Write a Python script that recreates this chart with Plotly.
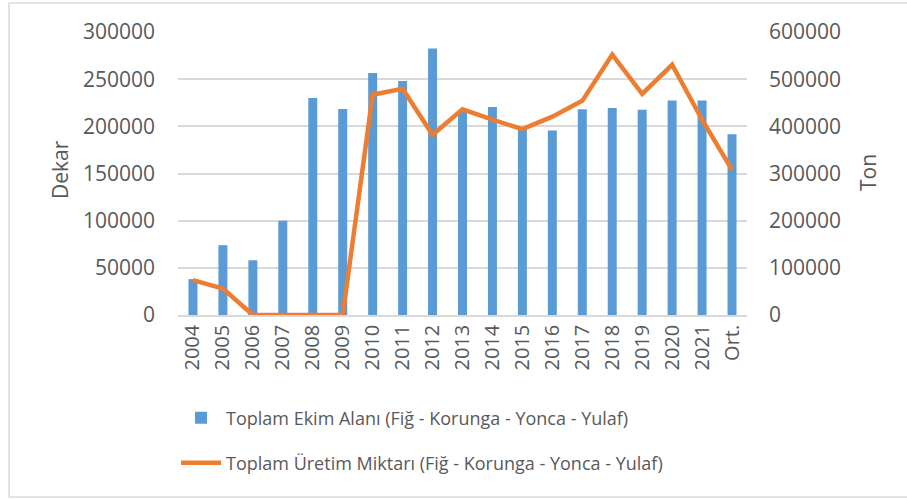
import plotly.graph_objects as go

categories = ["2004", "2005", "2006", "2007", "2008", "2009", "2010", "2011", "2012",
              "2013", "2014", "2015", "2016", "2017", "2018", "2019", "2020", "2021", "Ort."]
ekim_alani = [38000, 74000, 58000, 100000, 230000, 218500, 256500, 248000, 282500,
              216000, 220500, 197000, 195500, 218000, 219500, 217500, 227500, 227500, 191500]
uretim = [74000, 56000, 0, 0, 0, 0, 467000, 479500, 382000,
          436000, 414000, 394000, 420500, 454000, 552000, 469000, 530500, 414000, 307500]

left_ticks = [0, 50000, 100000, 150000, 200000, 250000, 300000]
right_ticks = [0, 100000, 200000, 300000, 400000, 500000, 600000]

FONT = "Open Sans"
GRAY = "#595959"
BORDER = "#D9D9D9"

L, R, T, B = 178, 160, 32, 184
W, H = 907, 499
pw, ph = W - L - R, H - T - B

def px_x(x):
    return (x - L) / pw

def px_y(y):
    return (H - B - y) / ph

fig = go.Figure()
fig.add_trace(go.Bar(
    x=categories, y=ekim_alani, name="Toplam Ekim Alanı (Fiğ - Korunga - Yonca - Yulaf)",
    marker=dict(color="#5B9BD5", line=dict(width=0)), yaxis="y", legend="legend",
))
fig.add_trace(go.Scatter(
    x=categories, y=uretim, name="Toplam Üretim Miktarı (Fiğ - Korunga - Yonca - Yulaf)",
    mode="lines", line=dict(color="#ED7D31", width=4.5), yaxis="y2", legend="legend2",
))

border_line = dict(color=BORDER, width=1.5)

fig.update_layout(
    width=W, height=H,
    margin=dict(l=L, r=R, t=T, b=B),
    paper_bgcolor="white", plot_bgcolor="white",
    font=dict(family=FONT, color=GRAY, size=20),
    bargap=0.7,
    xaxis=dict(
        type="category", tickangle=-90, showgrid=False, showline=True,
        linecolor=BORDER, linewidth=1.5, ticks="", tickfont=dict(size=20, color=GRAY),
    ),
    yaxis=dict(
        range=[0, 300000], tickvals=left_ticks, ticktext=[str(v) for v in left_ticks],
        showgrid=True, gridcolor=BORDER, gridwidth=1.5, zeroline=False,
        ticks="", tickfont=dict(size=21, color=GRAY), ticklabelstandoff=22,
    ),
    yaxis2=dict(
        range=[0, 600000], tickvals=right_ticks, ticktext=[str(v) for v in right_ticks],
        overlaying="y", side="right", showgrid=False, zeroline=False,
        ticks="", tickfont=dict(size=21, color=GRAY), ticklabelstandoff=21,
    ),
    legend=dict(
        x=px_x(176), y=px_y(418), xanchor="left", yanchor="middle",
        font=dict(size=18, color=GRAY), itemwidth=40, bgcolor="rgba(0,0,0,0)",
    ),
    legend2=dict(
        x=px_x(176), y=px_y(463), xanchor="left", yanchor="middle",
        font=dict(size=18, color=GRAY), itemwidth=40, bgcolor="rgba(0,0,0,0)",
    ),
    showlegend=True,
    annotations=[
        dict(text="Dekar", x=px_x(60), y=px_y(170), xref="paper", yref="paper",
             xanchor="center", yanchor="middle",
             textangle=-90, showarrow=False, font=dict(size=21, color=GRAY)),
        dict(text="Ton", x=px_x(868), y=px_y(173), xref="paper", yref="paper",
             xanchor="center", yanchor="middle",
             textangle=-90, showarrow=False, font=dict(size=21, color=GRAY)),
    ],
    shapes=[
        dict(type="line", xref="paper", yref="paper",
             x0=px_x(9), x1=px_x(9), y0=px_y(497), y1=px_y(3), line=border_line),
        dict(type="line", xref="paper", yref="paper",
             x0=px_x(9), x1=px_x(907), y0=px_y(3), y1=px_y(3), line=border_line),
        dict(type="line", xref="paper", yref="paper",
             x0=px_x(9), x1=px_x(907), y0=px_y(497), y1=px_y(497), line=border_line),
    ],
)

fig.write_html(
    "out.html",
    config={"displayModeBar": False},
    post_script="document.body.style.margin='0';document.body.style.overflow='hidden';",
)
